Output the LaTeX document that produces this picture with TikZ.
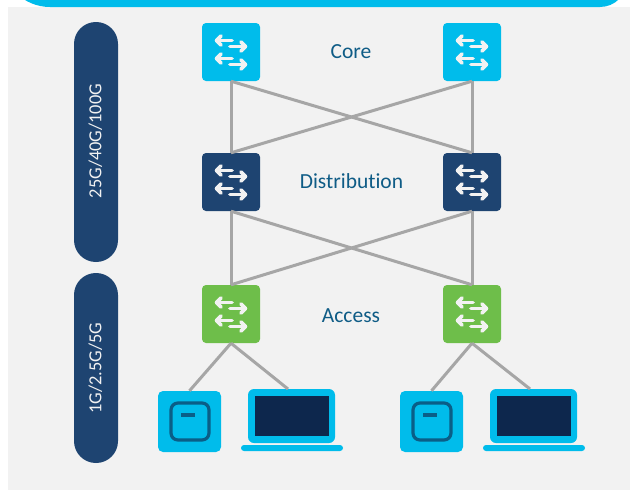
\documentclass[tikz,border=0pt]{standalone}
\usepackage{fontspec}
\setmainfont[Ligatures=NoCommon]{Carlito}
\definecolor{panel}{HTML}{F2F2F2}
\definecolor{cyanb}{HTML}{00BCEB}
\definecolor{navyb}{HTML}{1E4471}
\definecolor{greenb}{HTML}{6EBE4A}
\definecolor{linkg}{HTML}{A6A6A6}
\definecolor{screen}{HTML}{0D274D}
\definecolor{inner}{HTML}{0A5E87}
\definecolor{labelc}{HTML}{0F5C86}
\tikzset{
  switchbox/.style={minimum width=58pt,minimum height=58pt,rounded corners=4pt,inner sep=0pt,fill=#1},
  link/.style={draw=linkg,line width=3pt},
  tier/.style={text=labelc,font=\fontsize{21.5}{24}\selectfont},
  pill/.style={fill=navyb,rounded corners=21.9pt,minimum width=44pt,inner sep=0pt},
  pilltext/.style={text=panel,rotate=90,font=\fontsize{18.4}{21}\selectfont},
  apbody/.style={fill=cyanb,rounded corners=5pt,minimum width=63pt,minimum height=61pt,inner sep=0pt},
  lapbody/.style={fill=cyanb,rounded corners=6pt,minimum width=87pt,minimum height=54pt,inner sep=0pt},
  lapscreen/.style={fill=screen,minimum width=74pt,minimum height=40pt,inner sep=0pt},
  lapbase/.style={fill=cyanb,rounded corners=3pt,minimum width=102pt,minimum height=6pt,inner sep=0pt},
  apinner/.style={draw=inner,line width=3.2pt,rounded corners=7pt,minimum width=38pt,minimum height=37pt,inner sep=0pt},
  apbar/.style={fill=inner,minimum width=14pt,minimum height=4pt,inner sep=0pt},
  chev/.style={draw=panel,line width=3.8pt,line cap=round,line join=round},
  swicon/.pic={
    \foreach \yy in {-11.5,6.5}{
      \draw[chev] (-14.5,\yy) -- (1,\yy);
      \draw[chev] (-10,\yy-4.5) -- (-14.5,\yy) -- (-10,\yy+4.5);
      \draw[chev] (-1,\yy+6) -- (14.5,\yy+6);
      \draw[chev] (10,\yy+1.5) -- (14.5,\yy+6) -- (10,\yy+10.5);
    }
  }
}
\begin{document}
\begin{tikzpicture}[x=1pt,y=-1pt]
\useasboundingbox (0,0) rectangle (630,490);
\begin{scope}
\clip (0,0) rectangle (630,490);
\fill[white] (0,0) rectangle (630,490);
\fill[panel] (8,7) rectangle (630,490);
\fill[cyanb] (2,-60) -- (2,-41) arc[start angle=180,end angle=90,radius=48] -- (600,7) arc[start angle=90,end angle=0,radius=27] -- (627,-60) -- cycle;
\end{scope}
% pills
\node[pill,minimum height=240pt] (p1) at (96,142) {};
\node[pill,minimum height=190pt] (p2) at (96,368) {};
\node[pilltext] (pt1) at (95.5,141) {25G/40G/100G};
\node[pilltext] (pt2) at (95.5,368) {1G/2.5G/5G};
% switches
\node[switchbox=cyanb] (c1) at (231,52) {};
\node[switchbox=cyanb] (c2) at (472,52) {};
\node[switchbox=navyb] (d1) at (231,182) {};
\node[switchbox=navyb] (d2) at (472,182) {};
\node[switchbox=greenb] (a1) at (231,314) {};
\node[switchbox=greenb] (a2) at (472,314) {};
% devices
\node[apbody] (ap1) at (189.5,421.5) {};
\node[apbody] (ap2) at (431.5,421.5) {};
\node[lapbody] (l1) at (291.5,416) {};
\node[lapbody] (l2) at (533.5,416) {};
\node[lapscreen] (s1) at (292,416) {};
\node[lapscreen] (s2) at (534,416) {};
\node[lapbase] (b1) at (292,448) {};
\node[lapbase] (b2) at (534,448) {};
\node[apinner] (i1) at (190,421.5) {};
\node[apinner] (i2) at (432,421.5) {};
\node[apbar] (r1) at (188,415) {};
\node[apbar] (r2) at (430,415) {};
\coordinate (t1) at (288,389);
\coordinate (t2) at (530,389);
% links
\draw[link] (c1.south) -- (d1.north);
\draw[link] (c1.south) -- (d2.north);
\draw[link] (c2.south) -- (d1.north);
\draw[link] (c2.south) -- (d2.north);
\draw[link] (d1.south) -- (a1.north);
\draw[link] (d1.south) -- (a2.north);
\draw[link] (d2.south) -- (a1.north);
\draw[link] (d2.south) -- (a2.north);
\draw[link] (a1.south) -- (ap1.north);
\draw[link] (a1.south) -- (t1);
\draw[link] (a2.south) -- (ap2.north);
\draw[link] (a2.south) -- (t2);
% icons
\foreach \n in {c1,c2,d1,d2,a1,a2}{ \pic at (\n) {swicon}; }
% labels
\node[tier] (lc) at (351,52) {Core};
\node[tier] (ld) at (351.5,181.5) {Distribution};
\node[tier] (la) at (351,316) {Access};
\end{tikzpicture}
\end{document}
